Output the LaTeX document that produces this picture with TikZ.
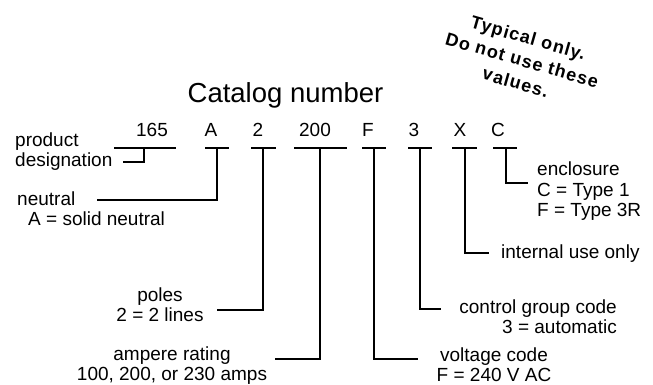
\documentclass[tikz,border=0pt]{standalone}
\usepackage{fontspec}
\setmainfont{Liberation Sans}
\begin{document}
\begin{tikzpicture}[x=1pt,y=1pt,
  lbl/.style={font=\fontsize{19}{20.5}\selectfont, inner sep=0pt},
  code/.style={font=\fontsize{19}{20.5}\selectfont, inner sep=0pt, anchor=base},
  wire/.style={line width=2.2pt},
]
\useasboundingbox (0,0) rectangle (653,385);
\fill[white] (0,0) rectangle (653,385);
\node[font=\fontsize{27.5}{30}\selectfont, anchor=base, inner sep=0pt] (title) at (285.5,282) {Catalog number};
% code characters
\node[code] (k1) at (152,248) {165};
\node[code] (k2) at (211,248) {A};
\node[code] (k3) at (258,248) {2};
\node[code] (k4) at (315,248) {200};
\node[code] (k5) at (368,248) {F};
\node[code] (k6) at (414,248) {3};
\node[code] (k7) at (460,248) {X};
\node[code] (k8) at (498,248) {C};
% bars
\draw[wire] (114,237) -- (176,237);
\draw[wire] (205,237) -- (229,237);
\draw[wire] (251,237) -- (276,237);
\draw[wire] (294,237) -- (347,237);
\draw[wire] (362,237) -- (386,237);
\draw[wire] (408,237) -- (432,237);
\draw[wire] (452,237) -- (477,237);
\draw[wire] (493,237) -- (517,237);
% connector start points
\coordinate (t1) at (144,237);
\coordinate (t2) at (217,237);
\coordinate (t3) at (263,237);
\coordinate (t4) at (320,237);
\coordinate (t5) at (374,237);
\coordinate (t6) at (420,237);
\coordinate (t7) at (465,237);
\coordinate (t8) at (506,237);
% connector free ends
\coordinate (e1) at (123,223);
\coordinate (e2) at (97,185);
\coordinate (e3) at (217,75);
\coordinate (e4) at (275,26);
\coordinate (e5) at (418,26);
\coordinate (e6) at (441,76);
\coordinate (e7) at (489,132);
\coordinate (e8) at (528,202);
\draw[wire] (t1) |- (e1);
\draw[wire] (t2) |- (e2);
\draw[wire] (t3) |- (e3);
\draw[wire] (t4) |- (e4);
\draw[wire] (t5) |- (e5);
\draw[wire] (t6) |- (e6);
\draw[wire] (t7) |- (e7);
\draw[wire] (t8) |- (e8);
% labels (base anchor = baseline of last line)
\node[lbl, anchor=base west, align=left] (l1) at (15,218) {product\\designation};
\node[lbl, anchor=base west, align=left] (l2) at (17,159) {neutral\\\hspace*{11pt}A = solid neutral};
\node[lbl, anchor=base, align=center] (l3) at (160,63) {poles\\2 = 2 lines};
\node[lbl, anchor=base, align=center] (l4) at (172,4) {ampere rating\\100, 200, or 230 amps};
\node[lbl, anchor=base, align=center] (l5) at (494,3) {voltage code\\F = 240 V AC};
\node[lbl, anchor=base east, align=right] (l6) at (617,51) {control group code\\3 = automatic};
\node[lbl, anchor=base west] (l7) at (501,126) {internal use only};
\node[lbl, anchor=base west, align=left] (l8) at (537,168) {enclosure\\C = Type 1\\F = Type 3R};
% note
\node[font=\bfseries\fontsize{18}{23}\selectfont\addfontfeature{LetterSpace=6}, rotate=-16, align=center, inner sep=0pt] (note) at (522,325) {Typical only.\\Do not use these\\values.};
\end{tikzpicture}
\end{document}
